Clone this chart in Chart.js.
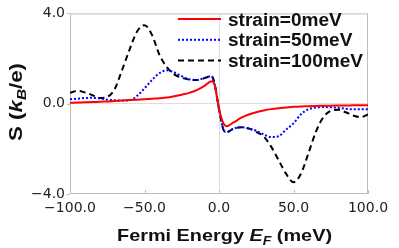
<!DOCTYPE html>
<html>
<head>
<meta charset="utf-8">
<script src="https://cdn.jsdelivr.net/npm/chart.js@4.4.0/dist/chart.umd.min.js"></script>
<style>
  html, body { margin: 0; padding: 0; background: #fff; }
  #wrap { width: 399px; height: 248px; }
</style>
</head>
<body>
<div id="wrap"><canvas id="chartS" width="399" height="248"></canvas></div>
<script>
// Fermi energy grid (meV)
const energias = [-100, -95, -90, -85, -80, -75, -70, -65, -60, -55, -50, -45, -40, -35, -30, -25, -20, -15, -10, -5, -3, -1, 0, 1, 3, 5, 10, 15, 20, 25, 30, 35, 40, 45, 50, 55, 60, 65, 70, 75, 80, 85, 90, 95, 100];

// S (kB/e) for each strain
const strain0 = [0.04, 0.05, 0.06, 0.07, 0.09, 0.10, 0.12, 0.14, 0.16, 0.18, 0.20, 0.22, 0.24, 0.27, 0.33, 0.40, 0.48, 0.60, 0.78, 1.00, 0.85, 0.15, -0.20, -0.50, -0.88, -1.00, -0.82, -0.62, -0.48, -0.38, -0.30, -0.24, -0.20, -0.17, -0.14, -0.12, -0.11, -0.10, -0.09, -0.09, -0.08, -0.08, -0.07, -0.07, -0.07];
const strain50 = [0.20, 0.22, 0.25, 0.26, 0.23, 0.18, 0.15, 0.14, 0.15, 0.35, 0.68, 1.05, 1.35, 1.48, 1.38, 1.22, 1.08, 1.05, 1.13, 1.22, 0.90, 0.15, -0.25, -0.60, -1.15, -1.26, -1.10, -1.04, -1.10, -1.20, -1.36, -1.48, -1.44, -1.15, -0.87, -0.47, -0.25, -0.17, -0.15, -0.16, -0.18, -0.22, -0.25, -0.25, -0.24];
const strain100 = [0.48, 0.57, 0.50, 0.38, 0.25, 0.30, 0.65, 1.50, 2.40, 3.20, 3.48, 3.05, 2.17, 1.62, 1.30, 1.15, 1.07, 1.05, 1.13, 1.22, 0.90, 0.15, -0.25, -0.60, -1.15, -1.26, -1.10, -1.04, -1.10, -1.25, -1.45, -1.90, -2.50, -3.10, -3.48, -3.10, -2.20, -1.25, -0.60, -0.32, -0.27, -0.38, -0.52, -0.60, -0.48];

const etiquetas = ['strain=0meV', 'strain=50meV', 'strain=100meV'];
const ticksX = [-100, -50, 0, 50, 100];
const ticksY = [-4, 0, 4];

function puntos(serie) {
    return energias.map((e, i) => ({ x: e, y: serie[i] }));
}

function fmt(v) {
    return v.toFixed(1).replace('-', '\u2212');
}

// dibuja texto con trozos (cursiva, subindice) estirado a un ancho dado
function textoMixto(ctx, trozos, cx, base, ancho) {
    let w = 0;
    trozos.forEach(t => { ctx.font = t.f; w += ctx.measureText(t.s).width; });
    const k = ancho / w;
    ctx.save();
    ctx.translate(cx, base);
    ctx.scale(k, 1);
    let x = -w / 2;
    trozos.forEach(t => {
        ctx.font = t.f;
        ctx.fillText(t.s, x, t.dy);
        x += ctx.measureText(t.s).width;
    });
    ctx.restore();
}

// marco, leyenda y titulos de ejes
const extras = {
    id: 'extras',
    beforeDatasetsDraw(chart) {
        const ctx = chart.ctx;
        const a = chart.chartArea;
        const sx = chart.scales.x, sy = chart.scales.y;
        ctx.save();
        ctx.strokeStyle = '#bdbdbd';
        ctx.lineWidth = 1;
        ctx.strokeRect(a.left + 0.5, a.top + 0.5, a.right - a.left - 1, a.bottom - a.top - 1);
        ctx.beginPath();
        ticksX.forEach(v => {
            const px = Math.round(sx.getPixelForValue(v)) + 0.5;
            ctx.moveTo(px, a.bottom);
            ctx.lineTo(px, a.bottom - 4);
        });
        ticksY.forEach(v => {
            const py = Math.round(sy.getPixelForValue(v)) + 0.5;
            ctx.moveTo(a.left, py);
            ctx.lineTo(a.left - 3, py);
        });
        ctx.stroke();
        ctx.restore();
    },
    afterDraw(chart) {
        const ctx = chart.ctx;
        ctx.save();
        ctx.fillStyle = '#111';
        ctx.textBaseline = 'alphabetic';

        // leyenda
        const fLeyenda = 'bold 18px "Liberation Sans", Arial, sans-serif';
        ctx.font = fLeyenda;
        const kLeyenda = 135 / ctx.measureText(etiquetas[2]).width;
        chart.data.datasets.forEach((ds, i) => {
            const y = 19 + i * 20.8;
            ctx.strokeStyle = ds.borderColor;
            ctx.lineWidth = ds.borderWidth;
            ctx.setLineDash(ds.borderDash || []);
            ctx.beginPath();
            ctx.moveTo(178, y);
            ctx.lineTo(221, y);
            ctx.stroke();
            ctx.setLineDash([]);
            ctx.save();
            ctx.translate(228, y + 6.5);
            ctx.scale(kLeyenda, 1);
            ctx.font = fLeyenda;
            ctx.textAlign = 'left';
            ctx.fillText(ds.label, 0, 0);
            ctx.restore();
        });

        // titulo eje x
        const b = 'bold 17px "Liberation Sans", Arial, sans-serif';
        const bi = 'italic bold 17px "Liberation Sans", Arial, sans-serif';
        const sub = 'italic bold 12px "Liberation Sans", Arial, sans-serif';
        textoMixto(ctx, [
            { s: 'Fermi Energy ', f: b, dy: 0 },
            { s: 'E', f: bi, dy: 0 },
            { s: 'F', f: sub, dy: 4 },
            { s: ' (meV)', f: b, dy: 0 }
        ], 224.5, 241, 215);

        // titulo eje y
        const b2 = 'bold 19px "Liberation Sans", Arial, sans-serif';
        const bi2 = 'italic bold 19px "Liberation Sans", Arial, sans-serif';
        const sub2 = 'italic bold 13px "Liberation Sans", Arial, sans-serif';
        ctx.translate(22, 102);
        ctx.rotate(-Math.PI / 2);
        textoMixto(ctx, [
            { s: 'S (', f: b2, dy: 0 },
            { s: 'k', f: bi2, dy: 0 },
            { s: 'B', f: sub2, dy: 4 },
            { s: '/e)', f: b2, dy: 0 }
        ], 0, 0, 78);
        ctx.restore();
    }
};

const fuenteTicks = { family: '"DejaVu Sans", sans-serif', size: 14 };
const gridCero = {
    color: ctx => (ctx.tick && ctx.tick.value === 0) ? '#dedede' : 'rgba(0,0,0,0)',
    lineWidth: 1,
    drawTicks: false
};

new Chart(document.getElementById('chartS'), {
    type: 'line',
    data: {
        datasets: [
            {
                label: etiquetas[0],
                data: puntos(strain0),
                borderColor: 'rgb(255, 0, 0)',
                borderWidth: 2,
                pointRadius: 0,
                cubicInterpolationMode: 'monotone',
                fill: false
            },
            {
                label: etiquetas[1],
                data: puntos(strain50),
                borderColor: 'rgb(0, 0, 255)',
                borderWidth: 2,
                borderDash: [2, 2],
                pointRadius: 0,
                cubicInterpolationMode: 'monotone',
                fill: false
            },
            {
                label: etiquetas[2],
                data: puntos(strain100),
                borderColor: 'rgb(0, 0, 0)',
                borderWidth: 2,
                borderDash: [6, 4],
                pointRadius: 0,
                cubicInterpolationMode: 'monotone',
                fill: false
            }
        ]
    },
    options: {
        responsive: false,
        animation: false,
        layout: { padding: { top: 10, right: 31, left: 0, bottom: 0 } },
        plugins: {
            legend: { display: false },
            tooltip: { enabled: false }
        },
        scales: {
            x: {
                type: 'linear',
                min: -100,
                max: 100,
                afterBuildTicks: s => { s.ticks = ticksX.map(v => ({ value: v })); },
                afterFit: s => { s.height = 54; },
                ticks: {
                    font: fuenteTicks,
                    color: '#222',
                    padding: 6,
                    maxRotation: 0,
                    callback: v => fmt(v)
                },
                grid: gridCero,
                border: { display: false }
            },
            y: {
                type: 'linear',
                min: -4,
                max: 4,
                afterBuildTicks: s => { s.ticks = ticksY.map(v => ({ value: v })); },
                afterFit: s => { s.width = 70; },
                ticks: {
                    font: fuenteTicks,
                    color: '#222',
                    padding: 5,
                    callback: v => fmt(v)
                },
                grid: gridCero,
                border: { display: false }
            }
        }
    },
    plugins: [extras]
});
</script>
</body>
</html>
